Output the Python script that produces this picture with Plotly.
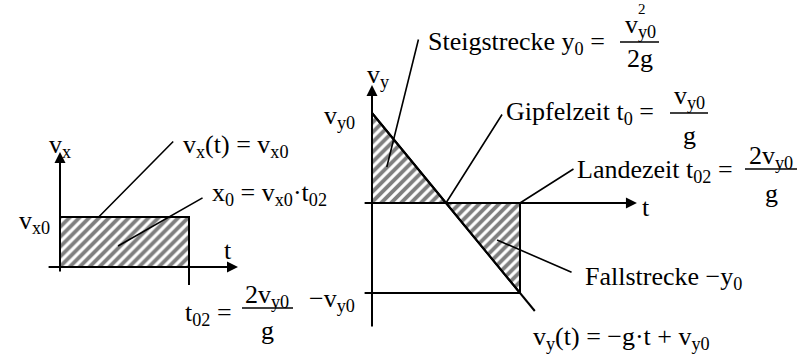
import plotly.graph_objects as go

W, H = 810, 354
FONT = "Liberation Serif"
FS = 26

# Horizontal motion: v_x stays constant until landing
v_x0 = 1.0
t_land = 2.0          # t02 (in units of v_y0/g)

# Vertical motion: v_y(t) = -g*t + v_y0
v_y0 = 1.0
g = 1.0
t_peak = v_y0 / g     # t0
t_end = 2.2           # line drawn a little past landing


def v_y(t):
    return -g * t + v_y0


# hatched areas
rect_t = [0.0, 0.0, t_land, t_land, 0.0]
rect_v = [0.0, v_x0, v_x0, 0.0, 0.0]

rise_t = [0.0, 0.0, t_peak, 0.0]
rise_v = [v_y(0.0), 0.0, v_y(t_peak), v_y(0.0)]

fall_t = [t_peak, t_land, t_land, t_peak]
fall_v = [v_y(t_peak), 0.0, v_y(t_land), v_y(t_peak)]

line_t = [0.0, t_end]
line_v = [v_y(0.0), v_y(t_end)]


def span(origin_px, scale, total, flip=False):
    """Axis range so that value 0 sits at origin_px with `scale` px per unit."""
    if flip:
        return [-(total - origin_px) / scale, origin_px / scale]
    return [-origin_px / scale, (total - origin_px) / scale]


hatch = dict(shape="/", size=7, solidity=0.55, fgcolor="black", bgcolor="white")

fig = go.Figure()

# left diagram (v_x over t)
fig.add_trace(go.Scatter(x=rect_t, y=rect_v, mode="lines", fill="toself",
                         fillpattern=hatch, fillcolor="white",
                         line=dict(color="black", width=2),
                         xaxis="x", yaxis="y", hoverinfo="skip"))

# right diagram (v_y over t)
for tt, vv in ((rise_t, rise_v), (fall_t, fall_v)):
    fig.add_trace(go.Scatter(x=tt, y=vv, mode="lines", fill="toself",
                             fillpattern=hatch, fillcolor="white",
                             line=dict(color="black", width=2),
                             xaxis="x2", yaxis="y2", hoverinfo="skip"))
fig.add_trace(go.Scatter(x=line_t, y=line_v, mode="lines",
                         line=dict(color="black", width=2),
                         xaxis="x2", yaxis="y2", hoverinfo="skip"))

shapes = []
# left: landing tick below t axis
shapes.append(dict(type="line", xref="x", yref="y", x0=t_land, x1=t_land,
                   y0=0, y1=-0.36, line=dict(color="black", width=2)))
# right: -v_y0 level line
shapes.append(dict(type="line", xref="x2", yref="y2", x0=-0.1, x1=t_land,
                   y0=-v_y0, y1=-v_y0, line=dict(color="black", width=2)))

annotations = []


def axis_arrow(xr, yr, x, y, ax, ay):
    annotations.append(dict(xref=xr, yref=yr, axref=xr, ayref=yr,
                            x=x, y=y, ax=ax, ay=ay, text="", showarrow=True,
                            arrowhead=2, arrowsize=1.1, arrowwidth=2,
                            arrowcolor="black", standoff=0, startstandoff=0))


# axes with arrowheads
axis_arrow("x", "y", 0, 2.3, 0, -0.12)
axis_arrow("x", "y", 2.76, 0, -0.2, 0)
axis_arrow("x2", "y2", 0, 1.31, 0, -1.39)
axis_arrow("x2", "y2", 3.58, 0, -0.12, 0)


def leader(xr, yr, x, y, dx, dy):
    annotations.append(dict(xref=xr, yref=yr, x=x, y=y, ax=dx, ay=dy,
                            text="", showarrow=True, arrowhead=0,
                            arrowwidth=1.6, arrowcolor="black",
                            standoff=0, startstandoff=0))


leader("x", "y", 0.6, v_x0, 76, -77)
leader("x", "y", 0.9, 0.42, 86, -49)
leader("x2", "y2", 0.2, 0.4, 32, -129)
leader("x2", "y2", t_peak, 0, 57, -90)
leader("x2", "y2", t_land, 0, 55, -35)
leader("x2", "y2", 1.69, -0.41, 76, 33)


def label(text, x, y, anchor="left", size=FS):
    annotations.append(dict(xref="paper", yref="paper", x=x / W, y=1 - y / H,
                            text=text, showarrow=False, xanchor=anchor,
                            yanchor="middle",
                            font=dict(family=FONT, size=size, color="black")))


def bar(x0, x1, y):
    shapes.append(dict(type="line", xref="paper", yref="paper",
                       x0=x0 / W, x1=x1 / W, y0=1 - y / H, y1=1 - y / H,
                       line=dict(color="black", width=1.5)))


# left diagram texts
label("v<sub>x</sub>", 60, 146, "center")
label("v<sub>x0</sub>", 52, 222, "right")
label("t", 228, 250, "center")
label("v<sub>x</sub>(t) = v<sub>x0</sub>", 181, 146)
label("x<sub>0</sub> = v<sub>x0</sub>·t<sub>02</sub>", 210, 194)
label("t<sub>02</sub> =", 183, 314)
label("2v<sub>y0</sub>", 267, 296, "center")
bar(242, 293, 308)
label("g", 267, 330, "center")

# right diagram texts
label("v<sub>y</sub>", 378, 76, "center")
label("v<sub>y0</sub>", 357, 117, "right")
label("−v<sub>y0</sub>", 357, 300, "right")
label("t", 646, 207, "center")

label("Steigstrecke y<sub>0</sub> =", 426, 43)
label("v<sub>y0</sub>", 640, 26, "center")
label("2", 642, 9, "center", size=15)
bar(620, 659, 42)
label("2g", 640, 59, "center")

label("Gipfelzeit t<sub>0</sub> =", 504, 113)
label("v<sub>y0</sub>", 689, 97, "center")
bar(670, 708, 113)
label("g", 689, 135, "center")

label("Landezeit t<sub>02</sub> =", 575, 171)
label("2v<sub>y0</sub>", 771, 157, "center")
bar(745, 797, 169)
label("g", 771, 193, "center")

label("Fallstrecke −y<sub>0</sub>", 583, 278)
label("v<sub>y</sub>(t) = −g·t + v<sub>y0</sub>", 531, 338)

hidden = dict(visible=False, showgrid=False, zeroline=False, fixedrange=True)
fig.update_layout(
    width=W, height=H,
    margin=dict(l=0, r=0, t=0, b=0),
    paper_bgcolor="white", plot_bgcolor="white",
    showlegend=False,
    font=dict(family=FONT, size=FS, color="black"),
    xaxis=dict(hidden, range=span(60, 64.5, W), domain=[0, 1]),
    yaxis=dict(hidden, range=span(267, 50, H, flip=True), domain=[0, 1]),
    xaxis2=dict(hidden, range=span(372, 74, W), overlaying="x"),
    yaxis2=dict(hidden, range=span(203, 90, H, flip=True), overlaying="y"),
    shapes=shapes,
    annotations=annotations,
)

fig.write_html("out.html")
